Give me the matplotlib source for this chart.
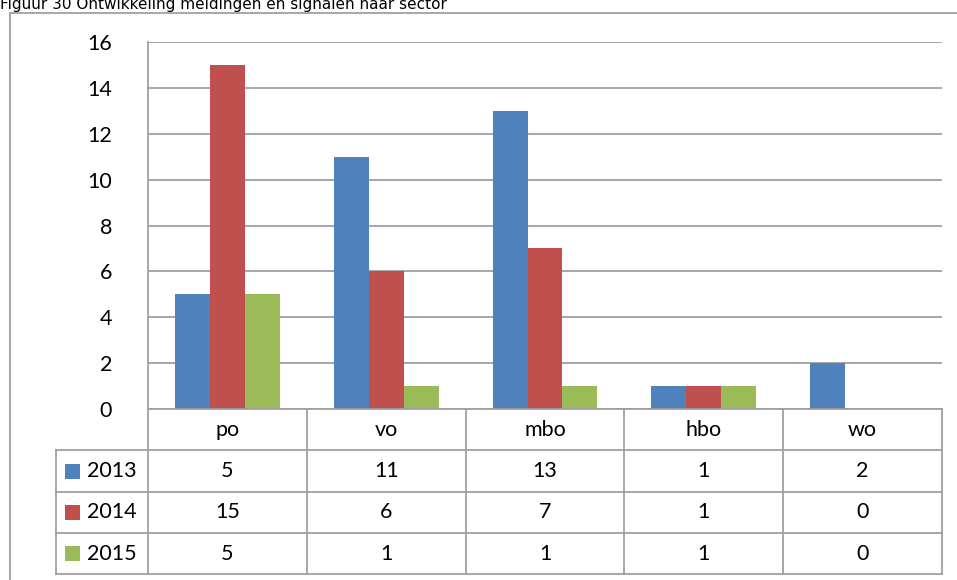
import matplotlib
matplotlib.use("Agg")
import numpy as np
from matplotlib import pyplot as plt
from matplotlib.transforms import blended_transform_factory
from matplotlib.patches import Rectangle

# data
sectors = ["po", "vo", "mbo", "hbo", "wo"]
years = ["2013", "2014", "2015"]
v2013 = [5, 11, 13, 1, 2]
v2014 = [15, 6, 7, 1, 0]
v2015 = [5, 1, 1, 1, 0]
series = [v2013, v2014, v2015]
colors = ["#4F81BD", "#C0504D", "#9BBB59"]
yticks = [0, 2, 4, 6, 8, 10, 12, 14, 16]

W, H = 957, 580
grid_c = "#A0A0A0"
font = "Lato"
fs = 15.5

fig = plt.figure(figsize=(W / 100, H / 100), dpi=100)

def fx(px):
  return px / W

def fy(py):
  return 1 - py / H

# plot area in pixels
left, right, top, bottom = 148, 942, 42, 409
ax = fig.add_axes([fx(left), fy(bottom), fx(right - left), (bottom - top) / H])

x = np.arange(len(sectors))
bw = 0.22
for i, (vals, c) in enumerate(zip(series, colors)):
  ax.bar(x + (i - 1) * bw, vals, bw, color=c, edgecolor="none", zorder=3)

ax.set_xlim(-0.5, len(sectors) - 0.5)
ax.set_ylim(0, 16)
ax.set_yticks(yticks)
ax.set_yticklabels([str(t) for t in yticks], fontfamily=font, fontsize=fs)
ax.tick_params(axis="y", length=0, pad=26)
ax.set_xticks([])
ax.yaxis.grid(True, color=grid_c, linewidth=1.3, zorder=0)
for s in ["top", "right", "bottom"]:
  ax.spines[s].set_visible(False)
ax.spines["left"].set_color(grid_c)
ax.spines["left"].set_linewidth(1.3)

# data table below the plot
tr = blended_transform_factory(ax.transData, fig.transFigure)
row_y = [409, 450, 492, 533, 574]
lk = dict(color=grid_c, linewidth=1.3, clip_on=False)

# horizontal lines
for j, ry in enumerate(row_y):
  x_start = left if j == 0 else 56
  fig.add_artist(plt.Line2D([fx(x_start), fx(right)], [fy(ry), fy(ry)], **lk))
# vertical lines
fig.add_artist(plt.Line2D([fx(56), fx(56)], [fy(450), fy(574)], **lk))
for k in range(len(sectors) + 1):
  ax.plot([k - 0.5, k - 0.5], [fy(409), fy(574)], transform=tr, **lk)

# header labels
for k, s in enumerate(sectors):
  ax.text(k, fy(430), s, transform=tr, ha="center", va="center",
          fontfamily=font, fontsize=fs)

# rows
for j, (yr, vals, c) in enumerate(zip(years, series, colors)):
  cy = (row_y[j + 1] + row_y[j + 2]) / 2
  fig.add_artist(Rectangle((fx(65), fy(cy + 7.5)), fx(15), 15 / H,
                           facecolor=c, edgecolor="none"))
  fig.text(fx(87), fy(cy), yr, ha="left", va="center",
           fontfamily=font, fontsize=fs)
  for k, v in enumerate(vals):
    ax.text(k, fy(cy), str(v), transform=tr, ha="center", va="center",
            fontfamily=font, fontsize=fs)

# outer chart frame (partly outside the picture)
fig.add_artist(plt.Line2D([fx(10), fx(10)], [fy(12.5), 0], **lk))
fig.add_artist(plt.Line2D([fx(10), 1], [fy(12.5), fy(12.5)], **lk))

# caption, cut off at the top
fig.text(0, fy(9), "Figuur 30 Ontwikkeling meldingen en signalen naar sector",
         ha="left", va="baseline", fontfamily="DejaVu Sans", fontsize=11)

plt.savefig("out.png", dpi=100)
